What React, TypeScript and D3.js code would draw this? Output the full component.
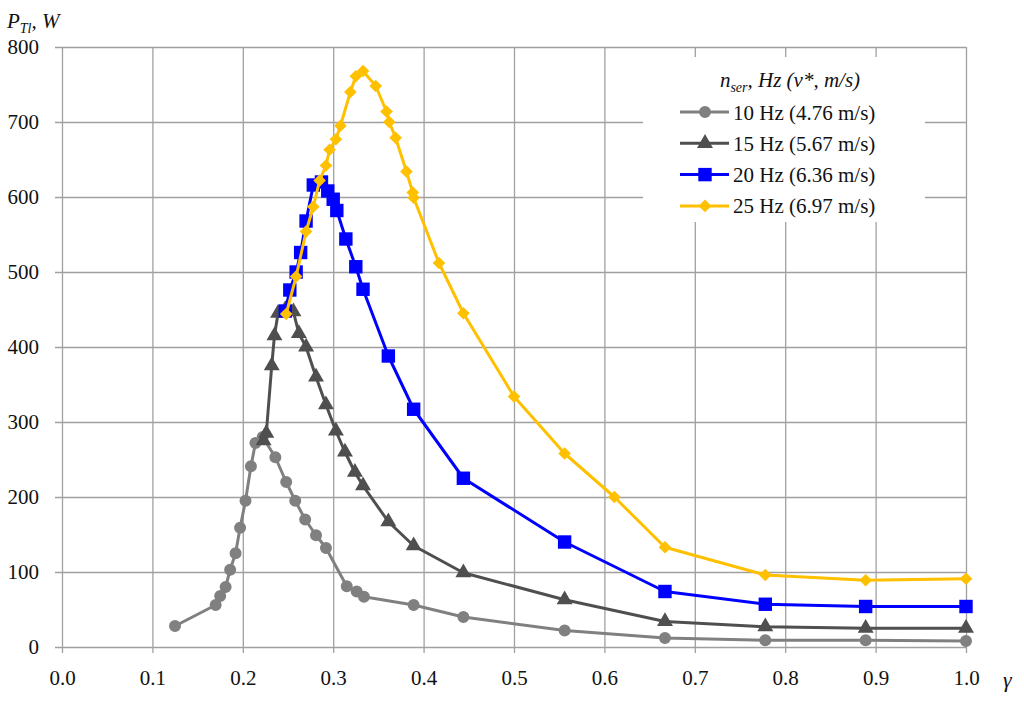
import { useEffect, useRef } from 'react';
import * as d3 from 'd3';

type Pt = [number, number];

// gamma, P_Tl (W)
const hz10: Pt[] = [
  [0.125, 28], [0.170, 56], [0.175, 68], [0.181, 80], [0.186, 103], [0.192, 125],
  [0.197, 159], [0.203, 195], [0.209, 241], [0.214, 272], [0.222, 280], [0.236, 253],
  [0.248, 220], [0.258, 195], [0.269, 170], [0.281, 149], [0.292, 132], [0.315, 81],
  [0.326, 74], [0.334, 67], [0.389, 56], [0.444, 40], [0.556, 22], [0.667, 12],
  [0.778, 9], [0.889, 9], [1.0, 8],
];
const hz15: Pt[] = [
  [0.223, 275], [0.226, 285], [0.232, 375], [0.235, 415], [0.239, 445], [0.247, 450],
  [0.256, 447], [0.262, 418], [0.270, 400], [0.281, 360], [0.292, 323], [0.303, 288],
  [0.313, 260], [0.324, 233], [0.333, 215], [0.361, 167], [0.389, 135], [0.444, 99],
  [0.556, 63], [0.667, 34], [0.778, 27], [0.889, 25], [1.0, 25],
];
const hz20: Pt[] = [
  [0.247, 448], [0.252, 476], [0.259, 500], [0.264, 526], [0.270, 568], [0.278, 616],
  [0.287, 620], [0.294, 608], [0.300, 597], [0.304, 582], [0.314, 544], [0.325, 507],
  [0.333, 477], [0.361, 388], [0.389, 317], [0.444, 225], [0.556, 140], [0.667, 74],
  [0.778, 57], [0.889, 54], [1.0, 54],
];
const hz25: Pt[] = [
  [0.248, 444], [0.259, 494], [0.270, 554], [0.278, 587], [0.285, 622], [0.292, 642],
  [0.296, 663], [0.303, 677], [0.308, 695], [0.319, 740], [0.325, 761], [0.333, 768],
  [0.347, 748], [0.359, 714], [0.362, 700], [0.369, 679], [0.381, 634], [0.388, 606],
  [0.389, 599], [0.417, 512], [0.444, 445], [0.5, 334], [0.556, 258], [0.611, 200],
  [0.667, 133], [0.778, 96], [0.889, 89], [1.0, 91],
];

const seriesLabels = ['10 Hz (4.76 m/s)', '15 Hz (5.67 m/s)', '20 Hz (6.36 m/s)', '25 Hz (6.97 m/s)'];
const seriesColors = ['#808080', '#4f4f4f', '#0000ff', '#ffc000'];
const xTicks = [0, 0.1, 0.2, 0.3, 0.4, 0.5, 0.6, 0.7, 0.8, 0.9, 1.0];
const yTicks = [0, 100, 200, 300, 400, 500, 600, 700, 800];

const FONT = '"Palatino Linotype", "Book Antiqua", Palatino, "Liberation Serif", serif';

export default function App() {
  const ref = useRef<HTMLDivElement>(null);
  useEffect(() => {
    const width = 1024;
    const height = 701;
    const marginTop = 47;
    const marginRight = 58;
    const marginBottom = 54;
    const marginLeft = 62;

    const x = d3.scaleLinear().domain([0, 1]).range([marginLeft, width - marginRight]);
    const y = d3.scaleLinear().domain([0, 800]).range([height - marginBottom, marginTop]);

    const svg = d3.create('svg')
      .attr('width', width)
      .attr('height', height)
      .attr('viewBox', [0, 0, width, height])
      .attr('style', 'position:absolute;left:0;top:0;background:#fff')
      .style('font-family', FONT);

    const gridColor = '#a0a0a0';

    // grid + outward ticks
    svg.append('g')
      .attr('transform', `translate(0,${height - marginBottom})`)
      .call(d3.axisBottom(x).tickValues(xTicks).tickFormat(d3.format('.1f'))
        .tickSize(-(height - marginTop - marginBottom)).tickPadding(0))
      .call((g) => g.select('.domain').remove())
      .call((g) => g.selectAll('.tick line').attr('stroke', gridColor).attr('stroke-width', 1.3).attr('y2', -(height - marginTop - marginBottom)).attr('y1', 6))
      .call((g) => g.selectAll('.tick text').attr('fill', '#111').attr('font-size', 21).attr('y', 38).attr('dy', 0)
        .attr('font-family', FONT));

    svg.append('g')
      .attr('transform', `translate(${marginLeft},0)`)
      .call(d3.axisLeft(y).tickValues(yTicks).tickFormat(d3.format('d'))
        .tickSize(-(width - marginLeft - marginRight)).tickPadding(0))
      .call((g) => g.select('.domain').remove())
      .call((g) => g.selectAll('.tick line').attr('stroke', gridColor).attr('stroke-width', 1.3).attr('x1', -7))
      .call((g) => g.selectAll('.tick text').attr('fill', '#111').attr('font-size', 21).attr('x', -23).attr('dy', '0.33em')
        .attr('font-family', FONT));

    const data = [hz10, hz15, hz20, hz25];
    const symbols = [
      d3.symbol(d3.symbolCircle, 113),
      d3.symbol(d3.symbolTriangle, 110),
      d3.symbol(d3.symbolSquare, 180),
      d3.symbol(d3.symbolSquare, 80),
    ];
    const rot = [0, 0, 0, 45];

    const line = d3.line<Pt>().x((d) => x(d[0])).y((d) => y(d[1]));

    data.forEach((s, i) => {
      const g = svg.append('g');
      g.append('path')
        .datum(s)
        .attr('fill', 'none')
        .attr('stroke', seriesColors[i])
        .attr('stroke-width', 3)
        .attr('stroke-linejoin', 'round')
        .attr('d', line);
      g.selectAll('path.m')
        .data(s)
        .join('path')
        .attr('class', 'm')
        .attr('fill', seriesColors[i])
        .attr('transform', (d) => `translate(${x(d[0])},${y(d[1])}) rotate(${rot[i]})`)
        .attr('d', symbols[i]);
    });

    // legend
    const lg = svg.append('g');
    lg.append('rect')
      .attr('x', 643).attr('y', 57).attr('width', 282).attr('height', 165)
      .attr('fill', '#fff');
    const title = lg.append('text')
      .attr('x', 790).attr('y', 87)
      .attr('text-anchor', 'middle')
      .attr('font-size', 21)
      .attr('font-style', 'italic')
      .attr('fill', '#111');
    title.append('tspan').text('n');
    title.append('tspan').attr('font-size', 14).attr('dy', 5).text('ser');
    title.append('tspan').attr('dy', -5).text(', Hz (v*, m/s)');

    seriesLabels.forEach((label, i) => {
      const cy = 112 + i * 31.3;
      lg.append('line')
        .attr('x1', 680).attr('x2', 729).attr('y1', cy).attr('y2', cy)
        .attr('stroke', seriesColors[i]).attr('stroke-width', 3);
      lg.append('path')
        .attr('fill', seriesColors[i])
        .attr('transform', `translate(705,${cy}) rotate(${rot[i]})`)
        .attr('d', symbols[i]);
      lg.append('text')
        .attr('x', 733).attr('y', cy + 7.5)
        .attr('font-size', 21)
        .attr('fill', '#111')
        .text(label);
    });

    // axis titles
    const yt = svg.append('text')
      .attr('x', 7).attr('y', 28)
      .attr('font-size', 21)
      .attr('font-style', 'italic')
      .attr('fill', '#111');
    yt.append('tspan').text('P');
    yt.append('tspan').attr('font-size', 14).attr('dy', 5).text('Tl');
    yt.append('tspan').attr('dy', -5).text(', W');

    svg.append('text')
      .attr('x', 1003).attr('y', 687)
      .attr('font-size', 22)
      .attr('font-style', 'italic')
      .attr('fill', '#111')
      .text('γ');

    const node = svg.node()!;
    ref.current?.append(node);
    return () => {
      node.remove();
    };
  }, []);
  return <div ref={ref} />;
}
